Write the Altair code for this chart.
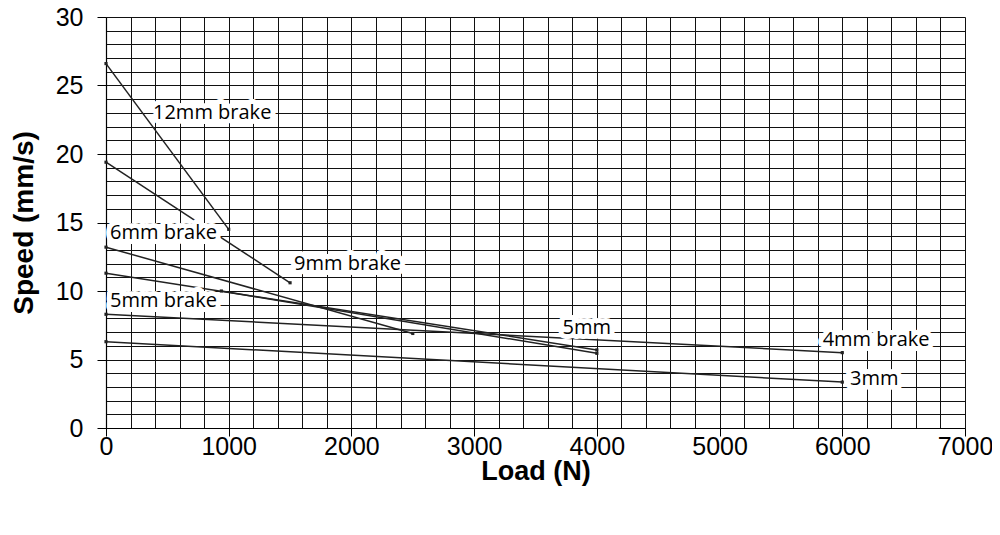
import altair as alt
import pandas as pd

# Series: straight segments
series = ["12mm brake", "9mm brake", "6mm brake", "5mm brake", "5mm", "4mm brake", "3mm"]
x_start = [0, 0, 0, 0, 940, 0, 0]
x_end = [1000, 1500, 2500, 4000, 4000, 6000, 6000]
y_start = [26.6, 19.4, 13.2, 11.3, 10.0, 8.3, 6.3]
y_end = [14.5, 10.6, 6.9, 5.7, 5.45, 5.5, 3.35]

# Label annotations
label_text = ["12mm brake", "9mm brake", "6mm brake", "5mm brake", "5mm", "4mm brake", "3mm"]
label_x = [383, 1532, 33, 33, 3721, 5840, 6063]
label_y = [23.0, 11.95, 14.2, 9.27, 7.33, 6.45, 3.55]

rows = []
for s, xs, xe, ys, ye in zip(series, x_start, x_end, y_start, y_end):
    rows.append({"series": s, "load": xs, "speed": ys, "order": 0})
    rows.append({"series": s, "load": xe, "speed": ye, "order": 1})
df = pd.DataFrame(rows)
labels = pd.DataFrame({"text": label_text, "load": label_x, "speed": label_y})

x_ticks = list(range(0, 7001, 200))
y_ticks = list(range(0, 31, 1))

xscale = alt.Scale(domain=[0, 7000], nice=False, zero=False)
yscale = alt.Scale(domain=[0, 30], nice=False, zero=False)

x_axis = alt.Axis(
    values=x_ticks,
    tickCount=200,
    labelExpr="datum.value % 1000 === 0 ? datum.label : ''",
    format="d",
    labelOverlap=False,
    grid=True, gridColor="#111111", gridOpacity=1, gridWidth=1,
    tickOpacity={"condition": {"test": "datum.value % 1000 === 0", "value": 1}, "value": 0},
    tickColor="black", tickSize=8, tickWidth=1,
    domainColor="black", domainWidth=1.2,
    labelFont="Liberation Sans", labelFontSize=25, labelColor="black", labelPadding=-2,
    labelFlush=False,
    title="Load (N)", titleFont="Liberation Sans", titleFontSize=27, titleFontWeight="bold",
    titleColor="black", titlePadding=-1,
)
y_axis = alt.Axis(
    values=y_ticks,
    tickCount=200,
    format="d",
    labelExpr="datum.value % 5 === 0 ? datum.label : ''",
    labelOverlap=False,
    grid=True, gridColor="#111111", gridOpacity=1, gridWidth=1,
    tickOpacity={"condition": {"test": "datum.value % 5 === 0", "value": 1}, "value": 0},
    tickColor="black", tickSize=9, tickWidth=1,
    domainColor="black", domainWidth=1.2,
    labelFont="Liberation Sans", labelFontSize=25, labelColor="black", labelPadding=14,
    labelFlush=False,
    title="Speed (mm/s)", titleFont="Liberation Sans", titleFontSize=28, titleFontWeight="bold",
    titleColor="black", titlePadding=17,
)

base = alt.Chart(df)
lines = base.mark_line(color="#222222", strokeWidth=1.5).encode(
    x=alt.X("load:Q", scale=xscale, axis=x_axis),
    y=alt.Y("speed:Q", scale=yscale, axis=y_axis),
    detail="series:N",
    order="order:Q",
)
points = base.mark_point(shape="square", filled=True, size=10, color="#222222", opacity=1).encode(
    x=alt.X("load:Q", scale=xscale),
    y=alt.Y("speed:Q", scale=yscale),
)
halo = alt.Chart(labels).mark_text(
    align="left", baseline="middle", font="Open Sans", fontSize=20,
    stroke="white", strokeWidth=10, strokeJoin="round", fill="white",
).encode(x=alt.X("load:Q", scale=xscale), y=alt.Y("speed:Q", scale=yscale), text="text:N")
text = alt.Chart(labels).mark_text(
    align="left", baseline="middle", font="Open Sans", fontSize=20, color="black",
).encode(x=alt.X("load:Q", scale=xscale), y=alt.Y("speed:Q", scale=yscale), text="text:N")

chart = alt.layer(lines, points, halo, text).properties(
    width=859, height=411,
    autosize=alt.AutoSizeParams(type="none"),
    padding={"left": 98, "top": 9, "right": 27, "bottom": 90},
    background="white",
).configure_view(stroke=None)

chart.save("out.html", embed_options={"renderer": "svg", "actions": False})
